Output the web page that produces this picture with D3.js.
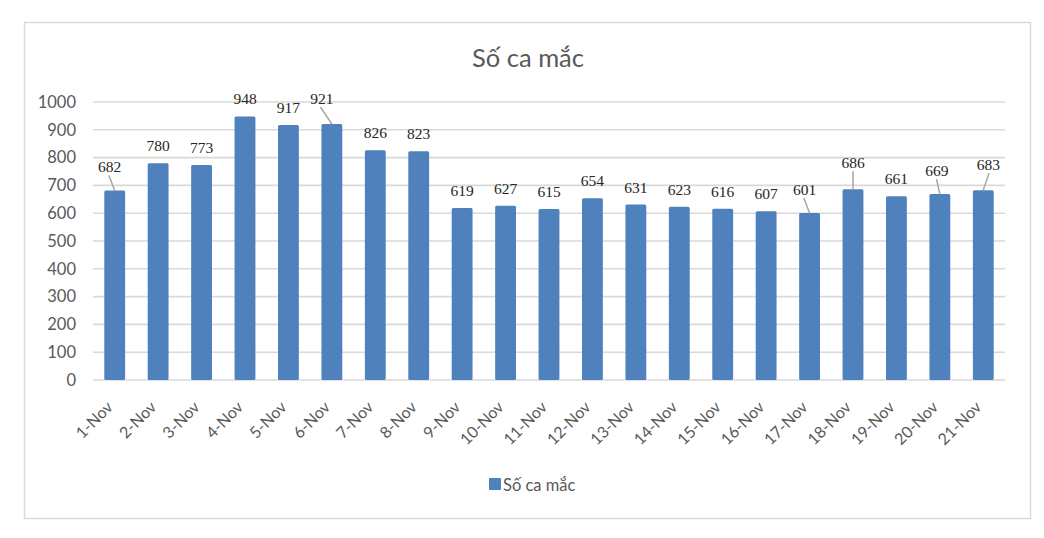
<!DOCTYPE html>
<html>
<head>
<meta charset="utf-8">
<script src="https://cdn.jsdelivr.net/npm/d3@7"></script>
<style>
  html, body { margin: 0; padding: 0; background: #ffffff; }
  svg { display: block; }
</style>
</head>
<body>
<svg id="chart" width="1044" height="538"></svg>
<script>
const categories = ["1-Nov","2-Nov","3-Nov","4-Nov","5-Nov","6-Nov","7-Nov","8-Nov","9-Nov","10-Nov","11-Nov","12-Nov","13-Nov","14-Nov","15-Nov","16-Nov","17-Nov","18-Nov","19-Nov","20-Nov","21-Nov"];
const values = [682,780,773,948,917,921,826,823,619,627,615,654,631,623,616,607,601,686,661,669,683];
const yTicks = [0,100,200,300,400,500,600,700,800,900,1000];
const seriesName = "Số ca mắc";
const chartTitle = "Số ca mắc";

// label nudges (layout only) for labels drawn with leader lines: [dx, dy]
const labelNudge = { "1-Nov": [-5,-6], "6-Nov": [-10,-8], "17-Nov": [-5,-6], "18-Nov": [0,-9], "20-Nov": [-3,-6], "21-Nov": [5,-8] };

const svg = d3.select("#chart");
const W = 1044, H = 538;
const m = { left: 93, right: 1005, top: 102, bottom: 380 };
const sans = "Lato, 'Open Sans', sans-serif";

svg.append("rect").attr("x", 0).attr("y", 0).attr("width", W).attr("height", H).attr("fill", "#fff");
svg.append("rect").attr("x", 24.5).attr("y", 22.5).attr("width", 1006).attr("height", 496)
  .attr("fill", "#fff").attr("stroke", "#d9d9d9").attr("stroke-width", 1.5);

const x = d3.scaleBand().domain(categories).range([m.left, m.right]).paddingInner(0.52).paddingOuter(0.26);
const y = d3.scaleLinear().domain([0, 1000]).range([m.bottom, m.top]);

// gridlines
svg.append("g").selectAll("line").data(yTicks).join("line")
  .attr("x1", m.left).attr("x2", m.right)
  .attr("y1", d => y(d)).attr("y2", d => y(d))
  .attr("stroke", "#d9d9d9").attr("stroke-width", 1.6);

// y axis
const yAxis = svg.append("g").attr("transform", `translate(${m.left},0)`)
  .call(d3.axisLeft(y).tickValues(yTicks).tickFormat(d3.format("d")).tickSize(0).tickPadding(17));
yAxis.select(".domain").remove();
yAxis.selectAll("text").attr("font-family", sans).attr("font-size", 16.5)
  .attr("fill", "#595959");

// bars
svg.append("g").selectAll("rect").data(values).join("rect")
  .attr("x", (d, i) => x(categories[i]))
  .attr("y", d => y(d))
  .attr("width", x.bandwidth())
  .attr("height", d => y(0) - y(d))
  .attr("rx", 1.5)
  .attr("fill", "#4f81bd");

// x axis
const xAxis = svg.append("g").attr("transform", `translate(0,${m.bottom})`)
  .call(d3.axisBottom(x).tickSize(0));
xAxis.select(".domain").remove();
xAxis.selectAll("text")
  .attr("font-family", sans).attr("font-size", 16)
  .attr("fill", "#595959")
  .attr("text-anchor", "end")
  .attr("dy", 0)
  .attr("transform", "translate(-3,26) rotate(-45)");

// data labels
const lab = svg.append("g");
values.forEach((v, i) => {
  const c = categories[i];
  const cx = x(c) + x.bandwidth() / 2;
  const top = y(v);
  const nudge = labelNudge[c] || [0, 0];
  const lx = cx + nudge[0];
  const ly = top - 12 + nudge[1];
  if (labelNudge[c]) {
    lab.append("line")
      .attr("x1", lx + nudge[0] * 0.15).attr("y1", ly + 3)
      .attr("x2", cx).attr("y2", top)
      .attr("stroke", "#a6a6a6").attr("stroke-width", 1.5);
  }
  lab.append("text").attr("x", lx).attr("y", ly)
    .attr("text-anchor", "middle")
    .attr("font-family", "'Liberation Serif', 'Times New Roman', serif").attr("font-size", 15.5)
    .attr("fill", "#262626")
    .text(v);
});

// title
svg.append("text").attr("x", 528).attr("y", 67).attr("text-anchor", "middle")
  .attr("font-family", sans).attr("font-size", 25.5)
  .attr("fill", "#595959").text(chartTitle);

// legend
svg.append("rect").attr("x", 489).attr("y", 478).attr("width", 12).attr("height", 12).attr("rx", 1)
  .attr("fill", "#4f81bd");
svg.append("text").attr("x", 503).attr("y", 491)
  .attr("font-family", sans).attr("font-size", 16.5)
  .attr("fill", "#595959").text(seriesName);
</script>
</body>
</html>
